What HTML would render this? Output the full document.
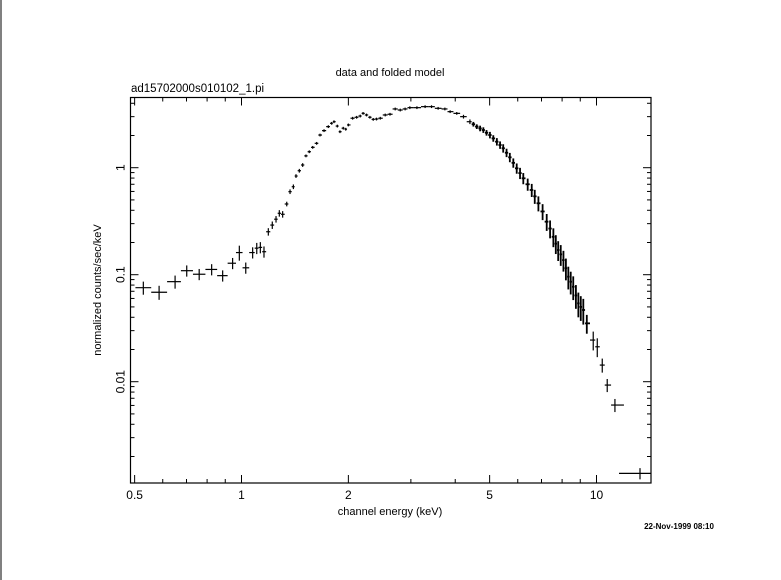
<!DOCTYPE html>
<html><head><meta charset="utf-8"><style>
html,body{margin:0;padding:0;background:#fff;}
svg{display:block;font-family:"Liberation Sans",sans-serif;}
</style></head><body>
<svg id="chart" width="781" height="580" viewBox="0 0 781 580" xmlns="http://www.w3.org/2000/svg">
<rect x="0" y="0" width="781" height="580" fill="#fff"/>
<line x1="1" y1="0" x2="1" y2="580" stroke="#000" stroke-width="1"/>
<text x="390" y="76" font-size="11" text-anchor="middle">data and folded model</text>
<text x="131" y="92" font-size="11.5">ad15702000s010102_1.pi</text>
<text x="0" y="0" font-size="11" text-anchor="middle" transform="translate(101,290) rotate(-90)">normalized counts/sec/keV</text>
<text x="390" y="515" font-size="11" text-anchor="middle">channel energy (keV)</text>
<text x="679" y="529" font-size="8" text-anchor="middle" font-weight="bold">22-Nov-1999 08:10</text>
<rect x="130.5" y="97.5" width="520.5" height="385.5" fill="none" stroke="#000" stroke-width="1.2"/>
<g id="ticks"></g>
<g id="marks"></g>
</svg>
<script>
const energies=[0.529,0.586,0.650,0.701,0.760,0.824,0.885,0.944,0.986,1.028,1.075,1.104,1.13,1.157,1.19,1.221,1.251,1.278,1.306,1.341,1.370,1.40,1.424,1.455,1.487,1.519,1.552,1.587,1.628,1.664,1.708,1.756,1.795,1.822,1.862,1.894,1.935,1.966,2.0,2.056,2.11,2.16,2.20,2.25,2.30,2.35,2.40,2.46,2.54,2.62,2.71,2.80,2.89,2.98,3.12,3.29,3.43,3.58,3.74,3.87,4.04,4.22,4.40,4.50,4.60,4.70,4.80,4.90,5.01,5.12,5.24,5.35,5.46,5.58,5.70,5.83,5.96,6.09,6.22,6.40,6.57,6.70,6.86,7.05,7.24,7.40,7.56,7.68,7.80,7.93,8.07,8.20,8.33,8.46,8.60,8.75,8.89,9.03,9.18,9.39,9.79,10.05,10.38,10.72,11.27,13.26];
const counts=[0.0756,0.0685,0.0861,0.109,0.101,0.112,0.098,0.128,0.161,0.116,0.161,0.177,0.180,0.164,0.252,0.291,0.330,0.375,0.367,0.458,0.597,0.664,0.836,0.937,1.06,1.29,1.41,1.55,1.69,2.02,2.22,2.42,2.60,2.69,2.45,2.17,2.34,2.29,2.51,2.90,2.96,3.04,3.22,3.11,2.96,2.83,2.85,2.90,3.11,3.16,3.54,3.46,3.54,3.64,3.64,3.72,3.72,3.59,3.54,3.34,3.22,3.00,2.69,2.55,2.42,2.33,2.25,2.12,2.02,1.88,1.75,1.63,1.52,1.38,1.25,1.11,0.987,0.89,0.796,0.70,0.619,0.54,0.465,0.39,0.313,0.27,0.226,0.195,0.170,0.155,0.137,0.115,0.0958,0.086,0.0772,0.064,0.0540,0.050,0.0468,0.0351,0.0245,0.0212,0.0143,0.0093,0.00605,0.00139];
const countErrFrac=[0.14,0.15,0.14,0.12,0.12,0.12,0.12,0.12,0.16,0.12,0.12,0.12,0.12,0.12,0.08,0.08,0.07,0.07,0.07,0.05,0.05,0.05,0.04,0.04,0.04,0.03,0.03,0.03,0.03,0.03,0.03,0.03,0.03,0.03,0.03,0.03,0.03,0.03,0.03,0.03,0.03,0.03,0.03,0.03,0.03,0.03,0.03,0.03,0.03,0.03,0.03,0.03,0.03,0.03,0.03,0.03,0.03,0.03,0.03,0.03,0.03,0.04,0.05,0.05,0.05,0.06,0.06,0.06,0.07,0.07,0.08,0.08,0.09,0.09,0.10,0.10,0.11,0.12,0.12,0.13,0.14,0.15,0.16,0.17,0.18,0.19,0.2,0.2,0.21,0.22,0.22,0.23,0.24,0.24,0.25,0.25,0.26,0.26,0.27,0.2,0.2,0.2,0.15,0.14,0.14,0.12];
const xMajorTicks=[0.5,1,2,5,10];
const xMajorLabels=["0.5","1","2","5","10"];
const xMinorTicks=[0.6,0.7,0.8,0.9,3,4,6,7,8,9];
const yMajorTicks=[0.01,0.1,1];
const yMajorLabels=["0.01","0.1","1"];
const yMinorTicks=[0.002,0.003,0.004,0.005,0.006,0.007,0.008,0.009,0.02,0.03,0.04,0.05,0.06,0.07,0.08,0.09,0.2,0.3,0.4,0.5,0.6,0.7,0.8,0.9,2,3,4];

const X0=130.5,X1=651,Y0=97.5,Y1=483;
function xs(e){return 241.5+355*Math.log10(e);}
function ys(v){return 167.7-107*Math.log10(v);}
const NS="http://www.w3.org/2000/svg";
function mk(tag,attrs,parent){const el=document.createElementNS(NS,tag);for(const k in attrs)el.setAttribute(k,attrs[k]);parent.appendChild(el);return el;}
const tg=document.getElementById('ticks');
xMajorTicks.forEach((t,i)=>{const x=xs(t);
 const a=mk('line',{x1:x,y1:Y1,x2:x,y2:Y1-8,stroke:'#000'},tg);
 
 
 const b=mk('line',{x1:x,y1:Y0,x2:x,y2:Y0+8,stroke:'#000'},tg);
 
 
 const l=mk('text',{x:x,y:Y1+16,'font-size':12,'text-anchor':'middle'},tg);l.textContent=xMajorLabels[i];
 
 
});
xMinorTicks.forEach(t=>{const x=xs(t);
 const a=mk('line',{x1:x,y1:Y1,x2:x,y2:Y1-4,stroke:'#000'},tg);
 
 
 const b=mk('line',{x1:x,y1:Y0,x2:x,y2:Y0+4,stroke:'#000'},tg);
 
 
});
yMajorTicks.forEach((t,i)=>{const y=ys(t);
 const a=mk('line',{x1:X0,y1:y,x2:X0+8,y2:y,stroke:'#000'},tg);
 
 
 const b=mk('line',{x1:X1,y1:y,x2:X1-8,y2:y,stroke:'#000'},tg);
 
 
 const l=mk('text',{x:0,y:0,'font-size':12,'text-anchor':'middle',transform:'translate('+(X0-6)+','+y+') rotate(-90)'},tg);l.textContent=yMajorLabels[i];
 
 
});
yMinorTicks.forEach(t=>{const y=ys(t);
 const a=mk('line',{x1:X0,y1:y,x2:X0+4,y2:y,stroke:'#000'},tg);
 
 
 const b=mk('line',{x1:X1,y1:y,x2:X1-4,y2:y,stroke:'#000'},tg);
 
 
});
const mg=document.getElementById('marks');
const n=energies.length;
for(let i=0;i<n;i++){
 const x=xs(energies[i]),y=ys(counts[i]);
 const px=i>0?xs(energies[i-1]):null,nx=i<n-1?xs(energies[i+1]):null;
 let hl=px!==null?(x-px)/2:(nx-x)/2, hr=nx!==null?(nx-x)/2:(x-px)/2;
 hl=Math.min(hl,9);hr=Math.min(hr,9);
 if(i===n-1){hl=21;hr=X1-x;}
 const e=countErrFrac[i];
 const yt=ys(counts[i]*(1+e)),yb=ys(counts[i]*(1-e));
 const sw=energies[i]>4.4&&energies[i]<9.5?1.8:1.2;
 const g=mk('g',{stroke:'#000','stroke-width':sw},mg);
 
 
 mk('line',{x1:x-hl,y1:y,x2:x+hr,y2:y},g);
 mk('line',{x1:x,y1:yt,x2:x,y2:yb},g);
}
</script>
</body></html>
